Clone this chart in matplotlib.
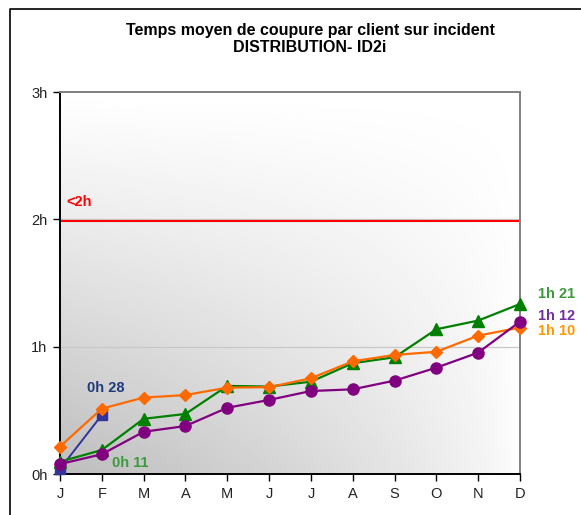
import numpy as np
import matplotlib.pyplot as plt
from matplotlib.lines import Line2D

plt.rcParams['font.family'] = ['Liberation Sans', 'DejaVu Sans']

months = ['J', 'F', 'M', 'A', 'M', 'J', 'J', 'A', 'S', 'O', 'N', 'D']

# minutes per client
orange_min = [12.9, 30.8, 36.0, 37.2, 40.7, 40.9, 45.1, 53.1, 56.1, 57.6, 65.2, 69.0]
green_min = [5.8, 11.3, 26.0, 28.3, 41.5, 41.2, 43.5, 52.2, 55.0, 68.2, 72.3, 80.1]
purple_min = [4.7, 9.3, 19.9, 22.6, 31.2, 34.9, 39.1, 39.9, 44.0, 50.1, 57.2, 71.8]
blue_min = [2.4, 27.8]
target_min = 119

yticks_h = [0, 1, 2, 3]
ytick_labels = ['0h', '1h', '2h', '3h']

fig = plt.figure(figsize=(5.81, 5.15), dpi=100)
ax = fig.add_axes([60 / 581, 41 / 515, 460 / 581, 382 / 515])

x = np.arange(len(months))
to_h = lambda v: np.array(v) / 60.0

# gradient background (grey bottom-left -> white top / right)
u, v = np.meshgrid(np.linspace(0, 1, 300), np.linspace(0, 1, 300))
shade = 1 - 0.26 * (1 - v) ** 1.1 * (1 - u) ** 0.7
ax.imshow(shade, cmap='gray', vmin=0, vmax=1, extent=[0, 11, 0, 3],
          origin='lower', aspect='auto', zorder=0)

for yv in [1, 2]:
    ax.axhline(yv, color='#c8c8c8', lw=0.9, zorder=1)
ax.axhline(target_min / 60, color='#ff0000', lw=1.5, zorder=2)
ax.text(0.15, 2.14, '<2h', color='#ff0000', fontsize=10.5, fontweight='bold', va='center')

ax.plot(x, to_h(orange_min), color='#ff6a00', lw=1.6, marker='D', ms=6.5,
        clip_on=False, zorder=5)
ax.plot(x, to_h(green_min), color='#008000', lw=1.6, marker='^', ms=8,
        clip_on=False, zorder=4)
ax.plot(x, to_h(purple_min), color='#800080', lw=1.6, marker='o', ms=8,
        clip_on=False, zorder=6)
ax.plot(x[:2], to_h(blue_min), color='#333399', lw=1.4, marker='s', ms=7,
        clip_on=False, zorder=3)

ax.text(0.64, 0.675, '0h 28', color='#1f3a7a', fontsize=10.5, fontweight='bold', va='center')
ax.text(1.24, 0.086, '0h 11', color='#3c9a3c', fontsize=10.5, fontweight='bold', va='center')
ax.text(11.43, 1.41, '1h 21', color='#3c9a3c', fontsize=10.5, fontweight='bold', va='center')
ax.text(11.43, 1.243, '1h 12', color='#7030a0', fontsize=10.5, fontweight='bold', va='center')
ax.text(11.43, 1.123, '1h 10', color='#ff9900', fontsize=10.5, fontweight='bold', va='center')

ax.set_xlim(0, 11)
ax.set_ylim(0, 3)
ax.set_xticks(x)
ax.set_xticklabels(months, fontsize=10.5, color='#222222')
ax.set_yticks(yticks_h)
ax.set_yticklabels(ytick_labels, fontsize=10.5, color='#222222')
ax.tick_params(direction='out', length=5, width=1, pad=4)
ax.spines['left'].set_color('black')
ax.spines['bottom'].set_color('black')
ax.spines['top'].set_color('#808080')
ax.spines['right'].set_color('#808080')
for s in ax.spines.values():
    s.set_linewidth(1.4)

fig.text(310 / 581, 1 - 30 / 515, 'Temps moyen de coupure par client sur incident',
         ha='center', va='center', fontsize=11.5, fontweight='bold')
fig.text(310 / 581, 1 - 47 / 515, 'DISTRIBUTION- ID2i',
         ha='center', va='center', fontsize=11.5, fontweight='bold')

# outer frame
fig.add_artist(Line2D([10 / 581, 10 / 581, 1], [0, 1 - 9 / 515, 1 - 9 / 515],
                      transform=fig.transFigure, color='black', lw=1.2))

fig.savefig('out.png', dpi=100)
